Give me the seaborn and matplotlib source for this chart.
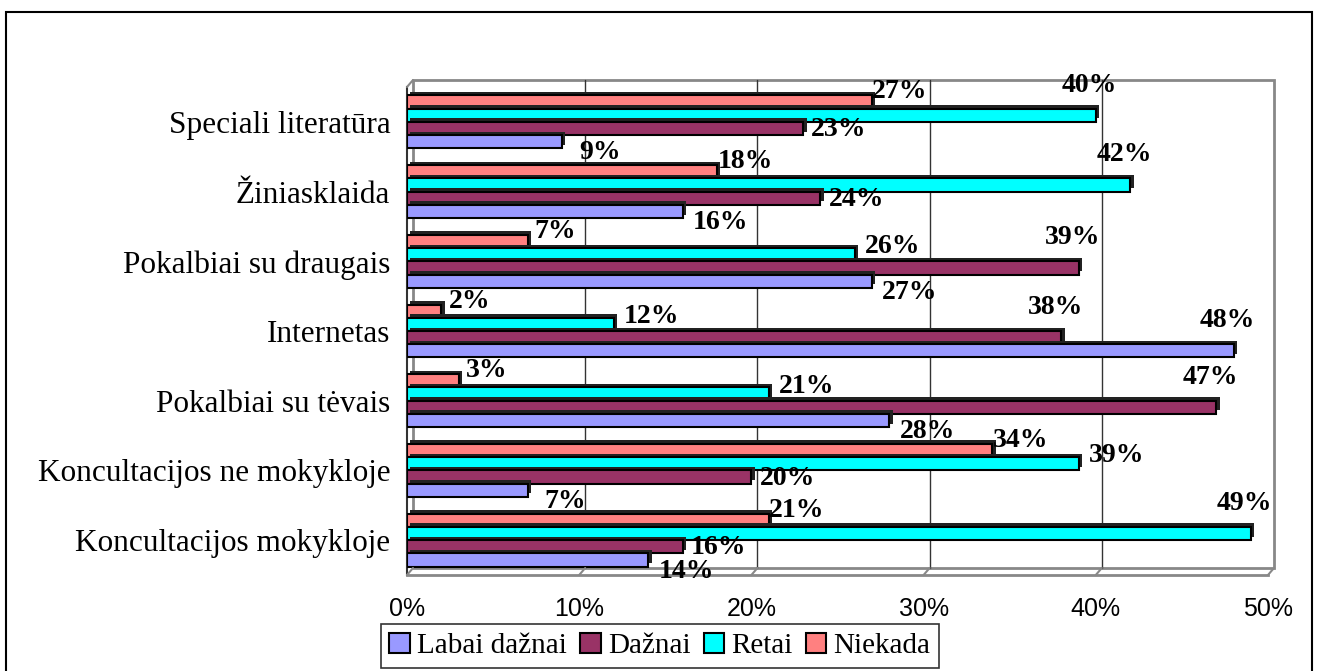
import pandas as pd
from matplotlib import pyplot as plt
from matplotlib import transforms
from matplotlib.lines import Line2D
from matplotlib.patches import Rectangle, Patch
import matplotlib.patheffects as pe
import seaborn as sns

categories = ['Speciali literatūra', 'Žiniasklaida', 'Pokalbiai su draugais', 'Internetas',
              'Pokalbiai su tėvais', 'Koncultacijos ne mokykloje', 'Koncultacijos mokykloje']
series = ['Labai dažnai', 'Dažnai', 'Retai', 'Niekada']
labai_daznai = [9, 16, 27, 48, 28, 7, 14]
daznai = [23, 24, 39, 38, 47, 20, 16]
retai = [40, 42, 26, 12, 21, 39, 49]
niekada = [27, 18, 7, 2, 3, 34, 21]
colors = {'Labai dažnai': '#9999FF', 'Dažnai': '#993366', 'Retai': '#00FFFF', 'Niekada': '#FF8080'}
xticks = [0, 10, 20, 30, 40, 50]

rows = []
for name, vals in zip(series, [labai_daznai, daznai, retai, niekada]):
    for c, v in zip(categories, vals):
        rows.append({'cat': c, 'series': name, 'value': v})
df = pd.DataFrame(rows)

sns.set_style('white')
plt.rcParams['font.family'] = ['Liberation Serif', 'DejaVu Serif']
plt.rcParams['text.color'] = 'black'
plt.rcParams['xtick.labelcolor'] = 'black'
plt.rcParams['ytick.labelcolor'] = 'black'

W, H = 1318, 671
fig = plt.figure(figsize=(W / 100, H / 100), dpi=100)
ax = fig.add_axes([407 / W, (H - 575) / H, (1268 - 407) / W, (575 - 87) / H])

hue_order = ['Niekada', 'Retai', 'Dažnai', 'Labai dažnai']
sns.barplot(data=df, y='cat', x='value', hue='series', hue_order=hue_order, order=categories,
            palette=colors, saturation=1, orient='h', width=0.76, edgecolor='black', linewidth=1.5,
            legend=False, ax=ax, zorder=3)

shadow = [pe.SimplePatchShadow(offset=(2.5, 2.5), shadow_rgbFace='#222222', alpha=1), pe.Normal()]
for p in ax.patches:
    p.set_path_effects(shadow)

ax.set_xlim(0, 50)
ax.set_ylim(len(categories) - 0.5, -0.5)
ax.set_xlabel('')
ax.set_ylabel('')
ax.set_xticks(xticks)
ax.set_xticklabels([f'{t}%' for t in xticks], family='Liberation Sans', fontsize=18)
ax.tick_params(axis='x', length=7, width=1.2, color='#555555', pad=9)
ax.set_yticks(range(len(categories)))
ax.set_yticklabels(categories, fontsize=22.5)
ax.tick_params(axis='y', which='major', length=0, pad=12)
ax.set_yticks([i - 0.5 for i in range(len(categories) + 1)], minor=True)
ax.tick_params(axis='y', which='minor', length=7, width=1.2, color='#555555')
for s in ['top', 'right']:
    ax.spines[s].set_visible(False)
ax.spines['left'].set_color('#333333')
ax.spines['left'].set_linewidth(1.5)
ax.spines['bottom'].set_color('#888888')
ax.spines['bottom'].set_linewidth(2)
ax.patch.set_alpha(0)

# back wall of the 3d frame
back = transforms.offset_copy(ax.transAxes, fig=fig, x=6, y=7, units='dots')
ax.add_patch(Rectangle((0, 0), 1, 1, transform=back, fill=False, edgecolor='#888888',
                       linewidth=2, zorder=0, clip_on=False))
gridt = transforms.offset_copy(ax.get_xaxis_transform(), fig=fig, x=6, y=7, units='dots')
for t in xticks[1:-1]:
    ax.plot([t, t], [0, 1], transform=gridt, color='#333333', linewidth=1, zorder=0, clip_on=False)

# floor diagonals
inv = fig.transFigure.inverted()
for t in xticks:
    x0, y0 = ax.get_xaxis_transform().transform((t, 0))
    p = inv.transform([(x0, y0), (x0 + 6, y0 + 7)])
    fig.add_artist(Line2D(p[:, 0], p[:, 1], color='#888888', linewidth=1.5))
x0, y0 = ax.transAxes.transform((0, 1))
p = inv.transform([(x0, y0), (x0 + 6, y0 + 7)])
fig.add_artist(Line2D(p[:, 0], p[:, 1], color='#888888', linewidth=1.5))

# data labels (long bars get their label lifted above the bar end)
offsets = {'Labai dažnai': (38, -11), 'Dažnai': (36, -1), 'Retai': (38, 8), 'Niekada': (28, 10)}
lift_from = {'Labai dažnai': 38, 'Dažnai': 38, 'Retai': 40, 'Niekada': 38}
for name, cont in zip(hue_order, ax.containers):
    for bar in cont:
        v = bar.get_width()
        yc = bar.get_y() + bar.get_height() / 2
        dx, dy = offsets[name]
        if v >= lift_from[name]:
            dx, dy = -6, 30
        ax.annotate(f'{v:.0f}%', (v, yc), xytext=(dx, dy), textcoords='offset pixels',
                    ha='center', va='center', fontsize=20, fontweight='bold', zorder=5,
                    annotation_clip=False)

handles = [Patch(facecolor=colors[s], edgecolor='black', linewidth=1.5) for s in series]
leg = fig.legend(handles, series, loc='upper center', bbox_to_anchor=(660 / W, (H - 624) / H), ncol=4,
                 fontsize=21, frameon=True, fancybox=False, edgecolor='black',
                 handlelength=0.7, handleheight=0.7, handletextpad=0.25, columnspacing=0.45,
                 borderpad=0.3, borderaxespad=0)
leg.get_frame().set_linewidth(1.2)

fig.add_artist(Rectangle((6 / W, -0.01), (1312 - 6) / W, (H - 12) / H + 0.01, transform=fig.transFigure,
                         fill=False, edgecolor='black', linewidth=1.5))

fig.savefig('out.png', dpi=100)
plt.close()
